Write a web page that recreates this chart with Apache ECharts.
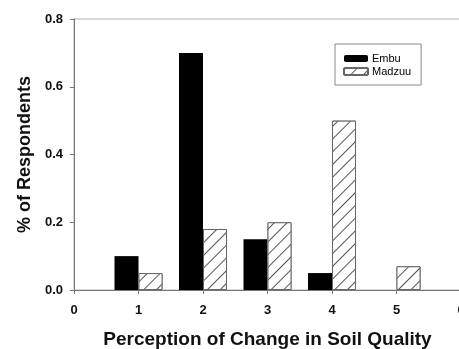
<!DOCTYPE html>
<html><head><meta charset="utf-8">
<script src="https://cdn.jsdelivr.net/npm/echarts@6/dist/echarts.min.js"></script>
<style>html,body{margin:0;padding:0;background:#fff}#c{width:459px;height:349px}</style>
</head><body><div id="c"></div>
<script>
var categories = ['0','1','2','3','4','5','6'];
var embu = [null, 0.10, 0.70, 0.15, 0.05, 0, null];
var madzuu = [null, 0.05, 0.18, 0.20, 0.50, 0.07, null];
var yTicks = [0, 0.2, 0.4, 0.6, 0.8];

var chart = echarts.init(document.getElementById('c'), null, {renderer:'canvas'});
var font = 'Liberation Sans, Arial, sans-serif';
chart.setOption({
  animation:false,
  backgroundColor:'#fff',
  grid:{left:74, top:19, width:387, height:271, show:true, borderColor:'#b0b0b0', borderWidth:1,
    containLabel:false, outerBoundsMode:'none'},
  legend:{
    left: 335, top: 44, orient:'vertical', itemWidth:24, itemHeight:7, itemGap:2,
    borderColor:'#888', borderWidth:1, padding:[9,10,8,8],
    textStyle:{fontFamily:font, fontSize:11, color:'#000', padding:[0,0,0,-1]},
    data:['Embu','Madzuu']
  },
  xAxis:{
    type:'category', data:categories, boundaryGap:false,
    name:'Perception of Change in Soil Quality', nameLocation:'middle', nameGap:40,
    nameTextStyle:{fontFamily:font, fontSize:19, fontWeight:'bold', color:'#111'},
    axisLine:{lineStyle:{color:'#777', width:1}},
    axisTick:{show:true, length:4, lineStyle:{color:'#777'}},
    axisLabel:{fontFamily:font, fontSize:13, fontWeight:'bold', color:'#111', margin:14},
    splitLine:{show:false}
  },
  yAxis:{
    type:'value', min:0, max:0.8, interval:0.2,
    name:'% of Respondents', nameLocation:'middle', nameGap:40, nameRotate:90,
    nameTextStyle:{fontFamily:font, fontSize:18, fontWeight:'bold', color:'#111'},
    axisLine:{show:true, lineStyle:{color:'#777', width:1}},
    axisTick:{show:true, length:4, lineStyle:{color:'#777'}},
    axisLabel:{fontFamily:font, fontSize:13, fontWeight:'bold', color:'#111', margin:11,
      formatter:function(v){return yTicks.indexOf(Math.round(v*10)/10)>=0 ? v.toFixed(1) : '';}},
    splitLine:{show:false}
  },
  series:[
    {name:'Embu', type:'bar', data:embu, barWidth:24, barGap:'0%',
      itemStyle:{color:'#000', borderWidth:0}},
    {name:'Madzuu', type:'bar', data:madzuu, barWidth:24, barGap:'0%',
      itemStyle:{color:'#fff', borderColor:'#666', borderWidth:1,
        decal:{symbol:'rect', symbolSize:1, dashArrayX:[1,0], dashArrayY:[1,8], rotation:-Math.PI/4, color:'#555', backgroundColor:'#fff'}}}
  ]
});
</script></body></html>
